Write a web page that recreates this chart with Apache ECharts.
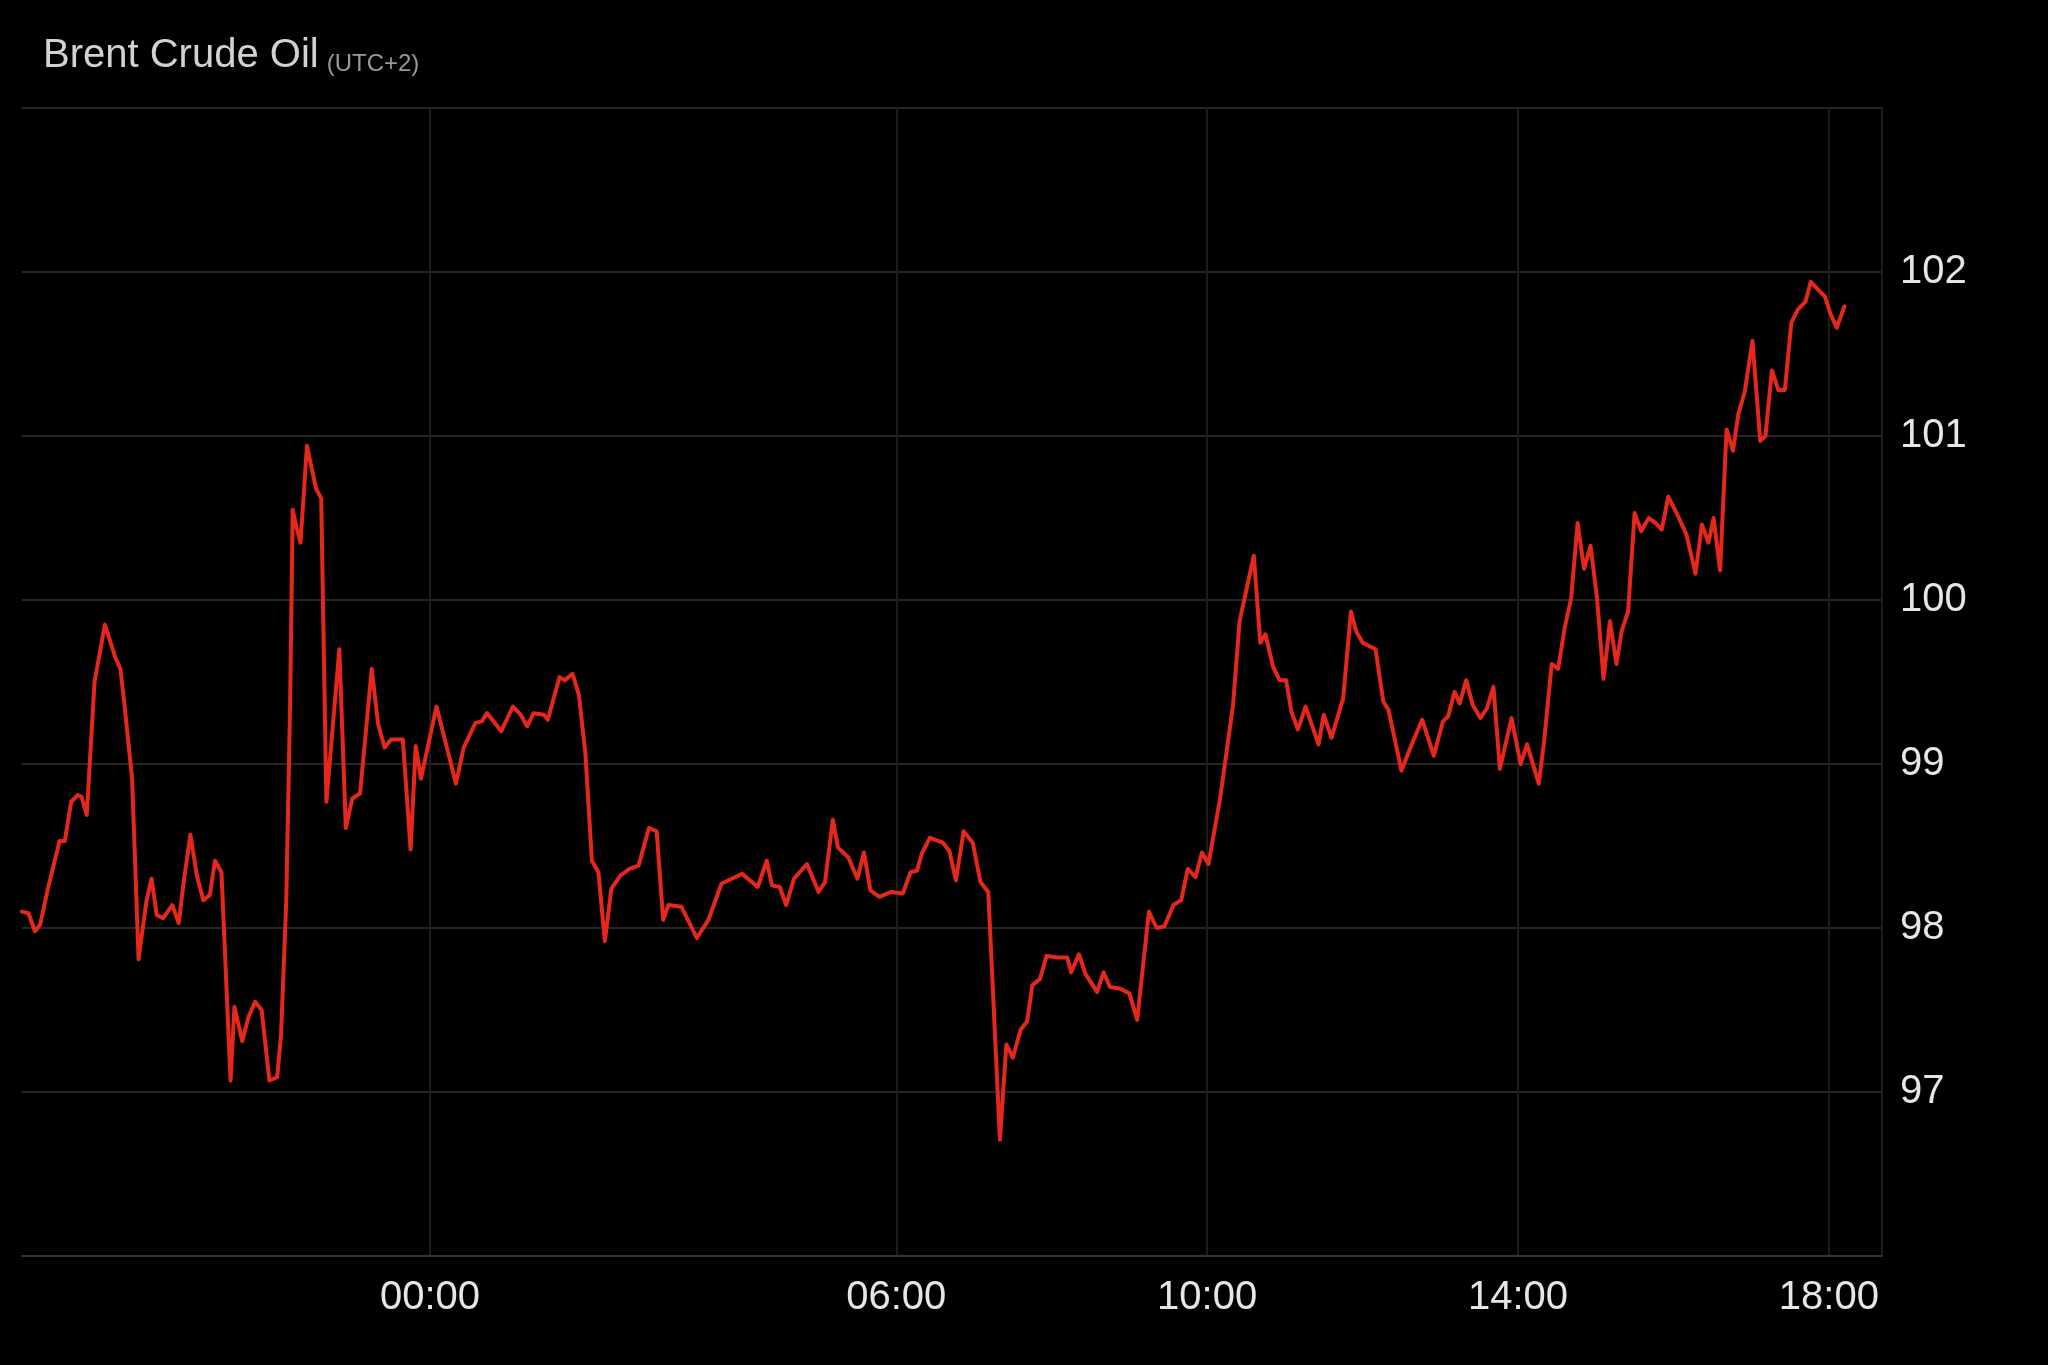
<!DOCTYPE html>
<html>
<head>
<meta charset="utf-8">
<script src="https://cdn.jsdelivr.net/npm/echarts@6/dist/echarts.min.js"></script>
<style>
  html, body { margin: 0; padding: 0; background: #000; }
  #chart { width: 2048px; height: 1365px; }
</style>
</head>
<body>
<div id="chart"></div>
<script>
// Time in minutes relative to 00:00 (negative = previous evening), UTC+2
const minutes = [
  -315, -310, -305, -301, -295, -286, -282, -277, -272, -269, -265, -259, -251, -243, -239, -236,
  -230, -225, -219, -215, -211, -206, -199, -194, -190, -185, -180, -175, -170, -166, -161, -154,
  -151, -145, -140, -135, -130, -124, -118, -115, -111, -108, -106, -103, -100, -95, -91, -88,
  -84, -80, -70, -65, -60, -54, -45, -40, -35, -30, -21, -15, -11, -7, -4, 5,
  13, 20, 26, 35, 40, 44, 49, 55, 64, 70, 75, 80, 88, 91, 100, 104,
  110, 115, 120, 125, 130, 135, 140, 147, 154, 161, 169, 175, 180, 184, 194, 206,
  215, 225, 233, 241, 253, 260, 264, 270, 275, 281, 291, 300, 305, 311, 315, 323,
  330, 335, 340, 347, 356, 365, 371, 376, 380, 386, 396, 401, 406, 412, 419, 425,
  431, 440, 445, 450, 456, 461, 465, 471, 476, 484, 492, 495, 501, 506, 515, 520,
  525, 533, 540, 546, 555, 561, 567, 574, 580, 585, 591, 596, 601, 610, 620, 625,
  636, 641, 645, 651, 656, 661, 665, 670, 676, 686, 690, 696, 705, 711, 715, 720,
  730, 736, 740, 750, 758, 766, 775, 782, 786, 791, 795, 800, 805, 811, 816, 821,
  826, 835, 842, 847, 856, 860, 866, 871, 876, 881, 886, 891, 896, 901, 906, 911,
  916, 920, 925, 930, 935, 941, 946, 951, 956, 963, 970, 977, 982, 987, 991, 996,
  1001, 1006, 1010, 1015, 1021, 1027, 1031, 1036, 1041, 1046, 1051, 1056, 1062, 1066, 1072, 1077,
  1081, 1086, 1092
];
const prices = [
  98.10, 98.09, 97.98, 98.02, 98.24, 98.53, 98.53, 98.77, 98.81, 98.80, 98.69, 99.50, 99.85, 99.65, 99.58, 99.37,
  98.91, 97.81, 98.16, 98.30, 98.08, 98.06, 98.14, 98.03, 98.29, 98.57, 98.32, 98.17, 98.20, 98.41, 98.34, 97.07,
  97.52, 97.31, 97.46, 97.55, 97.50, 97.07, 97.09, 97.35, 98.16, 99.37, 100.55, 100.44, 100.35, 100.94, 100.79, 100.68,
  100.62, 98.77, 99.70, 98.61, 98.79, 98.82, 99.58, 99.24, 99.10, 99.15, 99.15, 98.48, 99.11, 98.91, 99.02, 99.35,
  99.10, 98.88, 99.10, 99.25, 99.26, 99.31, 99.26, 99.20, 99.35, 99.30, 99.23, 99.31, 99.30, 99.27, 99.53, 99.51,
  99.55, 99.42, 99.06, 98.41, 98.34, 97.92, 98.24, 98.32, 98.36, 98.38, 98.61, 98.59, 98.05, 98.14, 98.13, 97.94,
  98.05, 98.27, 98.30, 98.33, 98.25, 98.41, 98.26, 98.25, 98.14, 98.30, 98.39, 98.22, 98.28, 98.66, 98.49, 98.43,
  98.30, 98.46, 98.23, 98.19, 98.22, 98.21, 98.34, 98.35, 98.46, 98.55, 98.52, 98.47, 98.29, 98.59, 98.52, 98.28,
  98.22, 96.71, 97.29, 97.21, 97.38, 97.43, 97.65, 97.69, 97.83, 97.82, 97.82, 97.73, 97.84, 97.72, 97.61, 97.73,
  97.64, 97.63, 97.60, 97.44, 98.10, 98.00, 98.01, 98.14, 98.17, 98.36, 98.31, 98.46, 98.39, 98.79, 99.36, 99.87,
  100.27, 99.74, 99.79, 99.59, 99.51, 99.51, 99.32, 99.21, 99.35, 99.12, 99.30, 99.16, 99.40, 99.93, 99.81, 99.74,
  99.70, 99.38, 99.33, 98.96, 99.12, 99.27, 99.05, 99.26, 99.29, 99.44, 99.37, 99.51, 99.36, 99.28, 99.34, 99.47,
  98.97, 99.28, 99.00, 99.12, 98.88, 99.13, 99.61, 99.58, 99.83, 100.01, 100.47, 100.19, 100.33, 100.01, 99.52, 99.87,
  99.61, 99.81, 99.93, 100.53, 100.42, 100.50, 100.47, 100.43, 100.63, 100.52, 100.40, 100.16, 100.46, 100.35, 100.50, 100.18,
  101.04, 100.91, 101.13, 101.27, 101.58, 100.97, 101.00, 101.40, 101.28, 101.28, 101.69, 101.77, 101.82, 101.94, 101.89, 101.85,
  101.75, 101.66, 101.79
];
const tickMinutes = [0, 360, 600, 840, 1080];
const tickLabels = ['00:00', '06:00', '10:00', '14:00', '18:00'];
const xMin = -315, xMax = 1121;

const chart = echarts.init(document.getElementById('chart'), null, { renderer: 'canvas' });
const seriesData = minutes.map((m, i) => [m, prices[i]]);
const FONT = '"Liberation Sans", Arial, Helvetica, sans-serif';

chart.setOption({
  backgroundColor: '#000000',
  animation: false,
  title: {
    text: '{a|Brent Crude Oil}{b|(UTC+2)}',
    left: 38,
    top: 31,
    textStyle: {
      fontWeight: 'normal',
      rich: {
        a: { fontFamily: FONT, fontSize: 40, fontWeight: 'normal', color: '#d2d2d2', lineHeight: 40, verticalAlign: 'bottom' },
        b: { fontFamily: FONT, fontSize: 24, fontWeight: 'normal', color: '#9a9a9a', lineHeight: 28, verticalAlign: 'bottom', padding: [0, 0, 0, 8] }
      }
    }
  },
  grid: { left: 22, right: 166, top: 108, bottom: 109, containLabel: false },
  xAxis: {
    type: 'value',
    min: xMin,
    max: xMax,
    axisLine: { show: true, lineStyle: { color: '#333333', width: 2 } },
    axisTick: { show: false, customValues: tickMinutes.concat([xMax]) },
    axisLabel: {
      customValues: tickMinutes,
      formatter: (v) => tickLabels[tickMinutes.indexOf(v)] || '',
      fontFamily: FONT, fontSize: 40, color: '#e6e6e6', margin: 22
    },
    splitLine: { show: true, lineStyle: { color: '#1c1c1c', width: 2 } }
  },
  yAxis: {
    type: 'value',
    position: 'right',
    min: 96,
    max: 103,
    interval: 1,
    axisLine: { show: false },
    axisTick: { show: true, length: 10, lineStyle: { color: '#262626', width: 2 } },
    axisLabel: {
      showMinLabel: false, showMaxLabel: false,
      fontFamily: FONT, fontSize: 40, color: '#e6e6e6', margin: 18
    },
    splitLine: { show: true, lineStyle: { color: '#262626', width: 2 } }
  },
  series: [{
    type: 'line',
    data: seriesData,
    showSymbol: false,
    smooth: false,
    lineStyle: { color: '#e5281b', width: 4, join: 'round', cap: 'round' },
    itemStyle: { color: '#e5281b' }
  }]
});
</script>
</body>
</html>
